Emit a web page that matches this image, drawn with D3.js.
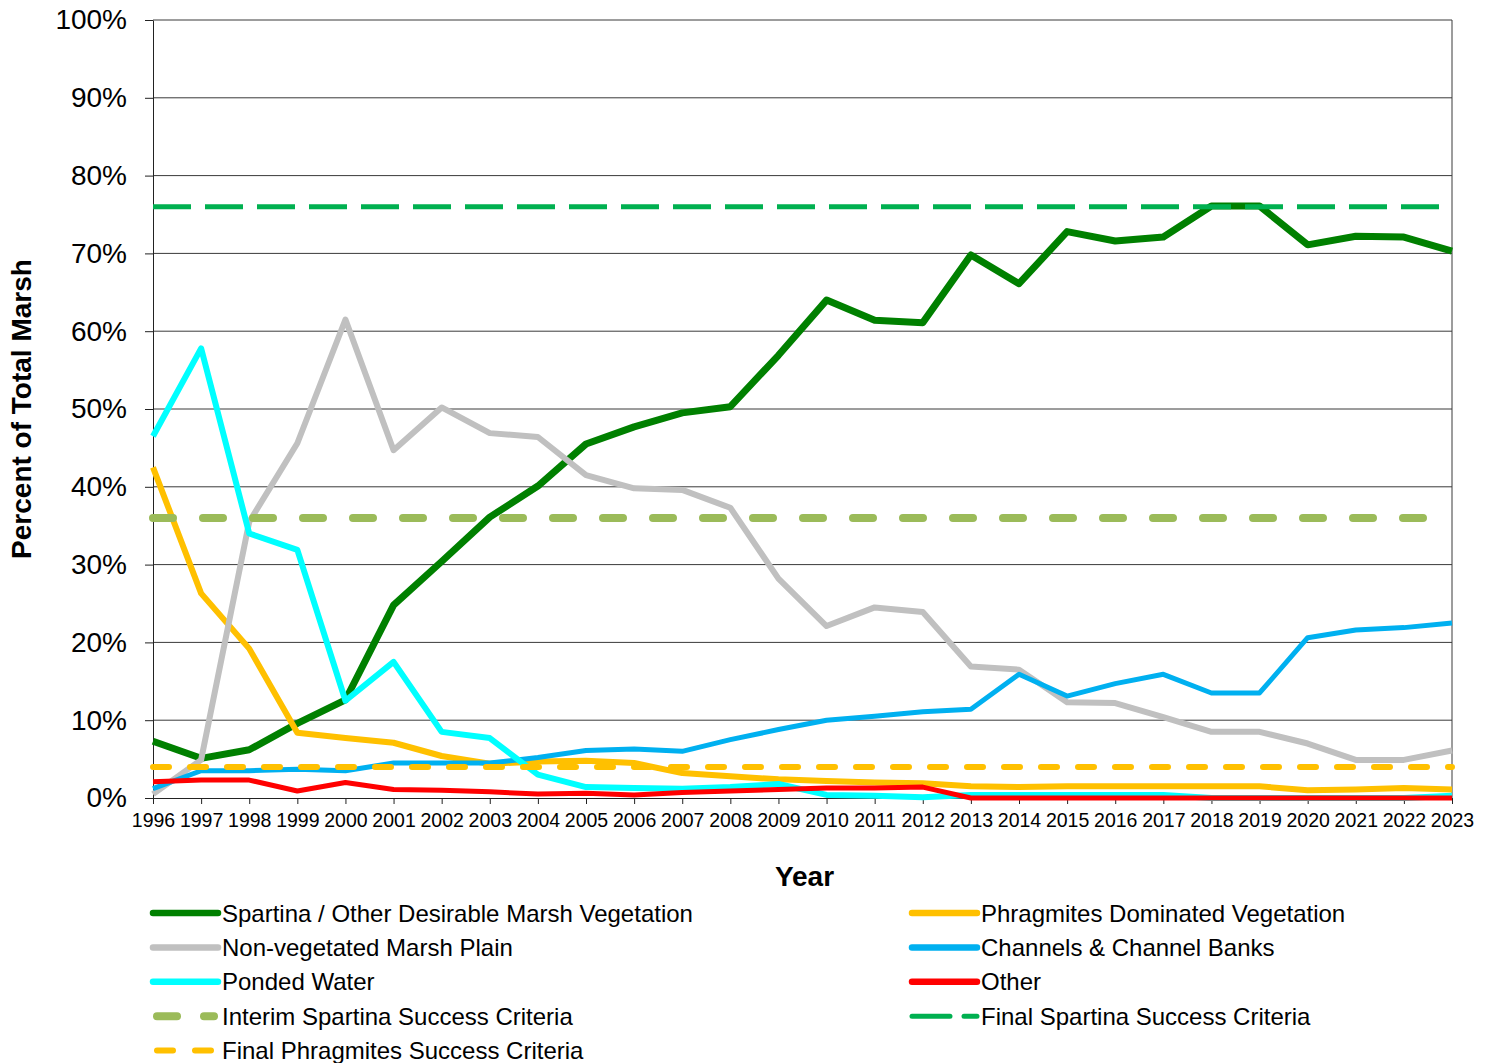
<!DOCTYPE html>
<html>
<head>
<meta charset="utf-8">
<script src="https://cdn.jsdelivr.net/npm/d3@7"></script>
<style>
    body { margin: 0; background: #fff; }
    svg { display: block; font-family: "Liberation Sans", Arial, sans-serif; }
    .grid line { stroke: #3a3a3a; stroke-width: 1; }
    .axis path, .axis line { stroke: #222; }
    .axis text { fill: #000; }
    .line { fill: none; stroke-linejoin: round; }
</style>
</head>
<body>
<div id="chart"></div>
<script>

var years = [1996, 1997, 1998, 1999, 2000, 2001, 2002, 2003, 2004, 2005, 2006, 2007, 2008, 2009,
    2010, 2011, 2012, 2013, 2014, 2015, 2016, 2017, 2018, 2019, 2020, 2021, 2022, 2023];

var spartina = [7.3, 5.1, 6.2, 9.6, 12.6, 24.8, 30.4, 36.1, 40.1, 45.5, 47.7, 49.5, 50.3, 56.9,
    64.0, 61.4, 61.1, 69.8, 66.1, 72.8, 71.6, 72.1, 76.1, 76.1, 71.1, 72.2, 72.1, 70.3];
var phragmites = [42.5, 26.3, 19.2, 8.4, 7.7, 7.1, 5.4, 4.4, 4.7, 4.8, 4.5, 3.2, 2.8, 2.4,
    2.2, 2.0, 1.9, 1.5, 1.4, 1.5, 1.5, 1.5, 1.5, 1.5, 1.0, 1.1, 1.3, 1.1];
var nonVegetated = [0.5, 4.9, 35.5, 45.6, 61.5, 44.7, 50.2, 46.9, 46.4, 41.5, 39.8, 39.6, 37.3, 28.2,
    22.1, 24.5, 23.9, 16.9, 16.5, 12.3, 12.2, 10.4, 8.5, 8.5, 7.0, 4.9, 4.9, 6.1];
var channels = [1.2, 3.5, 3.5, 3.7, 3.5, 4.5, 4.5, 4.5, 5.2, 6.1, 6.3, 6.0, 7.5, 8.8,
    10.0, 10.5, 11.1, 11.4, 15.9, 13.1, 14.7, 15.9, 13.5, 13.5, 20.6, 21.6, 21.9, 22.5];
var pondedWater = [46.5, 57.8, 34.0, 31.9, 12.5, 17.5, 8.5, 7.7, 3.0, 1.4, 1.3, 1.2, 1.4, 1.8,
    0.4, 0.3, 0.1, 0.4, 0.4, 0.4, 0.4, 0.4, 0, 0, 0, 0, 0, 0.3];
var other = [2.1, 2.3, 2.3, 0.9, 2.0, 1.1, 1.0, 0.8, 0.5, 0.6, 0.4, 0.7, 0.9, 1.1,
    1.3, 1.3, 1.4, 0, 0, 0, 0, 0, 0, 0, 0, 0, 0, 0];

var interimSpartina = 36
    , finalSpartina = 76
    , finalPhragmites = 4;

var yTicks = [0, 10, 20, 30, 40, 50, 60, 70, 80, 90, 100];

// series in the order they are drawn (later on top)
var series = [
    {name: "Spartina / Other Desirable Marsh Vegetation", values: spartina, color: "#008000", width: 7},
    {name: "Phragmites Dominated Vegetation", values: phragmites, color: "#FFC000", width: 6},
    {name: "Non-vegetated Marsh Plain", values: nonVegetated, color: "#C0C0C0", width: 6},
    {name: "Channels & Channel Banks", values: channels, color: "#00B0F0", width: 5},
    {name: "Ponded Water", values: pondedWater, color: "#00FFFF", width: 6},
    {name: "Other", values: other, color: "#FF0000", width: 5},
    {name: "Interim Spartina Success Criteria", values: years.map(function() { return interimSpartina; }),
        color: "#9BBB59", width: 8, dash: "20,30", cap: "round"},
    {name: "Final Spartina Success Criteria", values: years.map(function() { return finalSpartina; }),
        color: "#00B050", width: 5, dash: "38,14", cap: "butt"},
    {name: "Final Phragmites Success Criteria", values: years.map(function() { return finalPhragmites; }),
        color: "#FFC000", width: 6, dash: "16,21", cap: "round"}
];

var width = 1489
    , height = 1063
    , margin = {left: 153, right: 37, top: 20, bottom: 265};

var w = width - margin.left - margin.right
    , h = height - margin.top - margin.bottom;

var svg = d3.select("#chart")
    .append("svg")
    .attr("width", width)
    .attr("height", height);

var g = svg.append("g")
    .attr("transform", "translate(" + margin.left + "," + margin.top + ")");

var x = d3.scalePoint()
    .domain(years)
    .range([0, w]);

var y = d3.scaleLinear()
    .domain([0, 100])
    .range([h, 0]);

// horizontal grid
g.append("g")
    .attr("class", "grid")
    .selectAll("line")
    .data(yTicks.slice(1))
    .enter().append("line")
    .attr("x1", 0).attr("x2", w)
    .attr("y1", function(d) { return y(d); })
    .attr("y2", function(d) { return y(d); });

// right border
g.append("line")
    .attr("x1", w).attr("x2", w)
    .attr("y1", 0).attr("y2", h)
    .attr("stroke", "#3a3a3a");

var yAxis = d3.axisLeft(y)
    .tickValues(yTicks)
    .tickSizeOuter(0)
    .tickSizeInner(8)
    .tickPadding(18)
    .tickFormat(function(d) { return d + "%"; });

var xAxis = d3.axisBottom(x)
    .tickSizeOuter(0)
    .tickSizeInner(6)
    .tickPadding(9);

g.append("g")
    .attr("class", "axis axis--y")
    .call(yAxis)
    .selectAll("text")
    .style("font-size", "28px");

g.append("g")
    .attr("class", "axis axis--x")
    .attr("transform", "translate(0," + h + ")")
    .call(xAxis)
    .selectAll("text")
    .style("font-size", "19.5px");

var line = d3.line()
    .x(function(d, i) { return x(years[i]); })
    .y(function(d) { return y(d); });

g.selectAll(".line")
    .data(series)
    .enter().append("path")
    .attr("class", "line")
    .attr("d", function(d) { return line(d.values); })
    .attr("stroke", function(d) { return d.color; })
    .attr("stroke-width", function(d) { return d.width; })
    .attr("stroke-dasharray", function(d) { return d.dash || null; })
    .attr("stroke-linecap", function(d) { return d.cap || "butt"; });

// axis titles
svg.append("text")
    .attr("transform", "translate(31," + (margin.top + h / 2 + 0) + ") rotate(-90)")
    .attr("text-anchor", "middle")
    .style("font-size", "28px")
    .style("font-weight", "bold")
    .text("Percent of Total Marsh");

svg.append("text")
    .attr("x", margin.left + w / 2 + 2)
    .attr("y", 886)
    .attr("text-anchor", "middle")
    .style("font-size", "28px")
    .style("font-weight", "bold")
    .text("Year");

// legend: two columns, row-major
var legendOrder = [0, 1, 2, 3, 4, 5, 6, 7, 8]
    , colX = [153, 912]
    , rowY0 = 913
    , rowStep = 34.4;

var legend = svg.append("g")
    .attr("class", "legend")
    .selectAll("g")
    .data(legendOrder.map(function(i) { return series[i]; }))
    .enter().append("g")
    .attr("transform", function(d, i) {
        return "translate(" + colX[i % 2] + "," + (rowY0 + Math.floor(i / 2) * rowStep) + ")";
    });

legend.append("line")
    .attr("x1", function(d) { return d.cap === "round" ? 4 : 0; })
    .attr("x2", function(d) { return d.cap === "round" ? 61 : 65; })
    .attr("y1", 0).attr("y2", 0)
    .attr("stroke", function(d) { return d.color; })
    .attr("stroke-width", function(d) { return d.dash ? d.width : 6.5; })
    .attr("stroke-linecap", "round")
    .attr("stroke-dasharray", function(d) {
        if (!d.dash) return null;
        if (d.name.indexOf("Interim") === 0) return "20,27";
        if (d.name.indexOf("Final Spartina") === 0) return "38,14";
        return "16,22";
    });

legend.append("text")
    .attr("x", 69)
    .attr("dy", "0.36em")
    .style("font-size", "24px")
    .text(function(d) { return d.name; });

</script>
</body>
</html>
